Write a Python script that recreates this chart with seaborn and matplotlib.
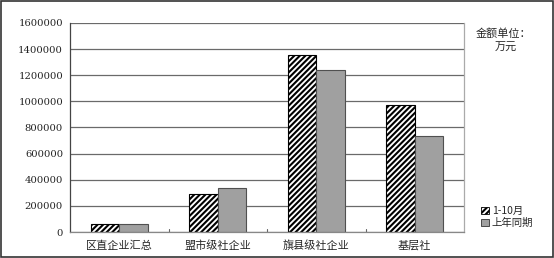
import matplotlib
matplotlib.use("Agg")
import matplotlib.pyplot as plt
import seaborn as sns
import pandas as pd
from matplotlib.patches import Patch, Rectangle

categories = ["区直企业汇总", "盟市级社企业", "旗县级社企业", "基层社"]
series_names = ["1-10月", "上年同期"]
values_current = [62000, 288000, 1355000, 970000]
values_last = [60000, 339000, 1242000, 737000]
yticks = [0, 200000, 400000, 600000, 800000, 1000000, 1200000, 1400000, 1600000]

df = pd.DataFrame({
    "cat": categories * 2,
    "series": [series_names[0]] * 4 + [series_names[1]] * 4,
    "value": values_current + values_last,
})

sns.set_style("white")
plt.rcParams["font.family"] = ["Noto Sans CJK SC", "DejaVu Sans"]
plt.rcParams["hatch.linewidth"] = 1.5

fig = plt.figure(figsize=(5.54, 2.58), dpi=100)
ax = fig.add_axes([70 / 554, 1 - 232 / 258, 394 / 554, 209 / 258])

sns.barplot(data=df, x="cat", y="value", hue="series", hue_order=series_names,
            order=categories, palette=["white", "#a0a0a0"], width=0.575,
            edgecolor="black", linewidth=0.8, saturation=1, ax=ax, legend=False)

for p in ax.containers[0]:
    p.set_hatch("//////")
    p.set_facecolor("white")
    p.set_edgecolor("black")
for p in ax.containers[1]:
    p.set_edgecolor("#505050")

ax.set_ylim(0, 1600000)
ax.set_xlim(-0.5, 3.5)
ax.set_yticks(yticks)
ax.set_yticklabels([str(v) for v in yticks], fontsize=7.2, family=["DejaVu Serif"], color="#222222")
ax.tick_params(axis="y", length=0, pad=5)
ax.tick_params(axis="x", length=0, pad=6, labelsize=8)
ax.set_xlabel("")
ax.set_ylabel("")
ax.yaxis.grid(True, color="#6a6a6a", linewidth=0.9)
ax.set_axisbelow(True)
ax.spines["top"].set_visible(False)
ax.spines["left"].set_color("#444444")
ax.spines["left"].set_linewidth(0.9)
ax.spines["bottom"].set_color("#888888")
ax.spines["bottom"].set_linewidth(0.9)
ax.spines["right"].set_color("#aaaaaa")
ax.spines["right"].set_linewidth(0.9)

# small separator ticks between categories
for xb in [0.5, 1.5, 2.5]:
    ax.plot([xb, xb], [0, 25000], color="#666666", linewidth=0.8, clip_on=False)

# unit annotation
fig.text(503 / 554, 1 - 33 / 258, "金额单位：", fontsize=8, ha="center", va="center")
fig.text(506 / 554, 1 - 48 / 258, "万元", fontsize=8, ha="center", va="center")

handles = [Patch(facecolor="white", edgecolor="black", hatch="//////", linewidth=0.6),
           Patch(facecolor="#a0a0a0", edgecolor="#333333", linewidth=0.6)]
fig.legend(handles, series_names, loc="center left",
           bbox_to_anchor=(476 / 554, 1 - 217 / 258), frameon=False,
           fontsize=7.5, handlelength=0.7, handleheight=0.7, handletextpad=0.3,
           labelspacing=0.15, borderpad=0)

fig.add_artist(Rectangle((0.001, 0.002), 0.997, 0.995, transform=fig.transFigure,
                         fill=False, edgecolor="#333333", linewidth=1.2))

fig.savefig("out.png", dpi=100)
